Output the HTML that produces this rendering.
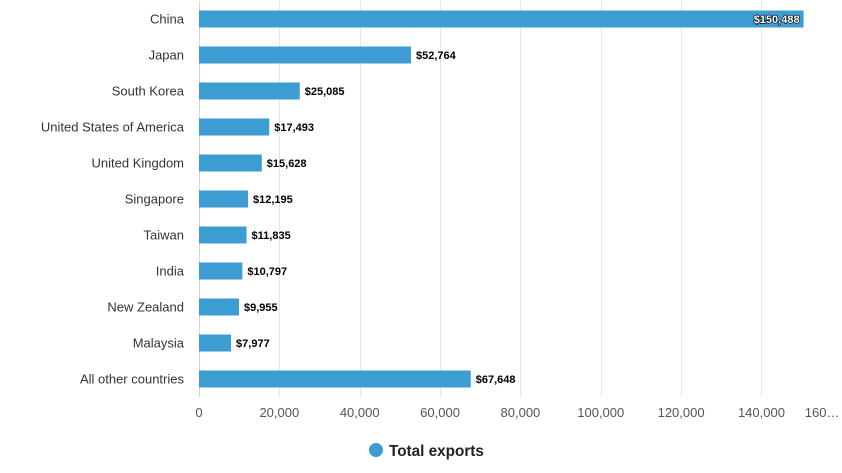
<!DOCTYPE html>
<html><head><meta charset="utf-8"><style>
html,body{margin:0;padding:0;background:#fff;width:842px;height:473px;overflow:hidden}
svg{display:block;font-family:"Liberation Sans",sans-serif}
</style></head><body>
<svg id="chart" width="842" height="473" viewBox="0 0 842 473" xmlns="http://www.w3.org/2000/svg">
<g id="grid"></g>
<g id="bars"></g>
<g id="ylab"></g>
<g id="xlab"></g>
<g>
<circle cx="376" cy="450" r="7" fill="#3d9cd2"/>
<text x="389" y="456" font-size="15.3" font-weight="bold" fill="#222">Total exports</text>
</g>
</svg>
<script>
const categories=["China","Japan","South Korea","United States of America","United Kingdom","Singapore","Taiwan","India","New Zealand","Malaysia","All other countries"];
const values=[150488,52764,25085,17493,15628,12195,11835,10797,9955,7977,67648];
const ticks=[0,20000,40000,60000,80000,100000,120000,140000,160000];
const tickLabels=["0","20,000","40,000","60,000","80,000","100,000","120,000","140,000","160…"];
const NS="http://www.w3.org/2000/svg";
const x0=199,pxPer=80.35/20000,y0=19,step=36,bh=17;
const xs=v=>x0+v*pxPer, ys=i=>y0+i*step;
function mk(t,a,p){const e=document.createElementNS(NS,t);for(const k in a)e.setAttribute(k,a[k]);p.appendChild(e);return e;}
const grid=document.getElementById('grid'),bars=document.getElementById('bars'),yl=document.getElementById('ylab'),xl=document.getElementById('xlab');
ticks.forEach((t,i)=>{
  const x=Math.round(xs(t))+0.5;
  const g=mk('line',{x1:x,x2:x,y1:1,y2:397,stroke:i==0?'#ccd6eb':'#e6e6e6','stroke-width':1},grid);
  
  
  const last=i==ticks.length-1;
  const tx=mk('text',{x:last?xs(t)-37:xs(t),y:417,'font-size':13,fill:'#555','text-anchor':last?'start':'middle'},xl);
  tx.textContent=tickLabels[i];
  
  
});
categories.forEach((c,i)=>{
  const y=ys(i);
  const r=mk('rect',{x:x0,y:y-bh/2,width:xs(values[i])-x0,height:bh,fill:'#3d9cd2'},bars);
  
  
  const lb=mk('text',{x:184,y:y+4.5,'font-size':13,fill:'#333','text-anchor':'end'},yl);
  lb.textContent=c;
  
  
  const s='$'+values[i].toLocaleString('en-US');
  const inside=values[i]>140000;
  const dl=mk('text',{x:inside?xs(values[i])-4:xs(values[i])+5,y:y+4,'font-size':11,'font-weight':'bold','text-anchor':inside?'end':'start',fill:inside?'#fff':'#000'},bars);
  if(inside){dl.setAttribute('stroke','#000');dl.setAttribute('stroke-width','1.3');dl.setAttribute('paint-order','stroke');}
  dl.textContent=s;
  
  
});
</script>
</body></html>
